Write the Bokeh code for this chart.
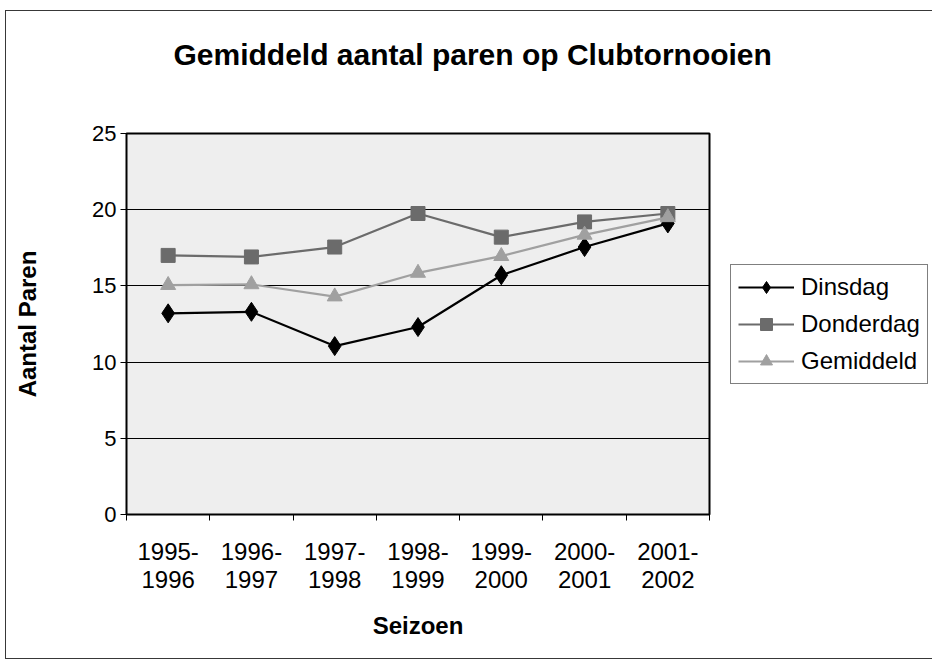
from bokeh.plotting import figure
from bokeh.models import (FixedTicker, Legend, LegendItem, Title, Range1d)
from bokeh.embed import file_html
from bokeh.resources import INLINE

title_text = "Gemiddeld aantal paren op Clubtornooien"
seasons = ["1995-\n1996", "1996-\n1997", "1997-\n1998", "1998-\n1999",
           "1999-\n2000", "2000-\n2001", "2001-\n2002"]
dinsdag = [13.2, 13.3, 11.05, 12.3, 15.7, 17.55, 19.1]
donderdag = [17.0, 16.9, 17.55, 19.75, 18.2, 19.2, 19.75]
gemiddeld = [15.05, 15.1, 14.3, 15.85, 16.95, 18.35, 19.5]
y_ticks = [0, 5, 10, 15, 20, 25]

FONT = "Liberation Sans"
xs = [i + 0.5 for i in range(len(seasons))]

p = figure(frame_width=583, frame_height=381, output_backend="svg",
           toolbar_location=None,
           x_range=Range1d(0, len(seasons)), y_range=Range1d(0, 25),
           min_border_left=120, min_border_right=222, min_border_top=122,
           min_border_bottom=144)
p.styles = {"border": "1.5px solid #383838", "margin-left": "5px",
            "margin-top": "10px"}

p.background_fill_color = "#eeeeee"
p.border_fill_color = "white"
p.outline_line_color = "black"
p.outline_line_width = 2

# axes
p.xaxis.ticker = FixedTicker(ticks=xs, minor_ticks=list(range(len(seasons) + 1)))
p.xaxis.major_label_overrides = {x: s for x, s in zip(xs, seasons)}
p.xaxis.major_tick_in = 0
p.xaxis.major_tick_out = 0
p.xaxis.minor_tick_in = 0
p.xaxis.minor_tick_out = 6
p.xaxis.minor_tick_line_color = "black"
p.xaxis.major_label_standoff = 17
p.xaxis.major_label_text_font_size = "24px"
p.xaxis.major_label_text_line_height = 1.05
p.xaxis.axis_label = "Seizoen"
p.xaxis.axis_label_standoff = 16

p.yaxis.ticker = FixedTicker(ticks=y_ticks)
p.yaxis.major_tick_in = 0
p.yaxis.major_tick_out = 6
p.yaxis.minor_tick_line_color = None
p.yaxis.major_label_standoff = 4
p.yaxis.major_label_text_font_size = "22px"
p.yaxis.axis_label = "Aantal Paren"
p.yaxis.axis_label_standoff = 48

for ax in (p.xaxis, p.yaxis):
    ax.axis_line_color = "black"
    ax.major_tick_line_color = "black"
    ax.major_label_text_font = FONT
    ax.major_label_text_color = "black"
    ax.axis_label_text_font = FONT
    ax.axis_label_text_font_size = "24px"
    ax.axis_label_text_font_style = "bold"
    ax.axis_label_text_color = "black"

p.xgrid.grid_line_color = None
p.ygrid.ticker = FixedTicker(ticks=y_ticks[1:-1])
p.ygrid.grid_line_color = "black"
p.ygrid.grid_line_width = 1

p.add_layout(Title(text=title_text + "\n ", align="left", offset=47,
                   vertical_align="bottom", standoff=46,
                   text_line_height=1.2,
                   text_font=FONT, text_font_size="30px",
                   text_font_style="bold", text_color="black"), "above")

items = []
specs = [("Dinsdag", dinsdag, "#000000", "diamond", 19),
         ("Donderdag", donderdag, "#6b6b6b", "square", 14),
         ("Gemiddeld", gemiddeld, "#a0a0a0", "triangle", 15)]
for name, vals, col, mk, sz in specs:
    l = p.line(xs, vals, line_color=col, line_width=2.2)
    s = p.scatter(xs, vals, marker=mk, size=sz, fill_color=col, line_color=col)
    items.append(LegendItem(label=name, renderers=[l, s]))

legend = Legend(items=items, location=(21, 130),
                label_text_font=FONT, label_text_font_size="24px",
                label_text_color="black", glyph_width=56, glyph_height=30,
                label_standoff=7, spacing=7, padding=7, margin=0,
                border_line_color="black", border_line_width=1.2,
                background_fill_color="white", background_fill_alpha=1)
p.add_layout(legend, "right")

open("out.html", "w").write(file_html(p, INLINE))
